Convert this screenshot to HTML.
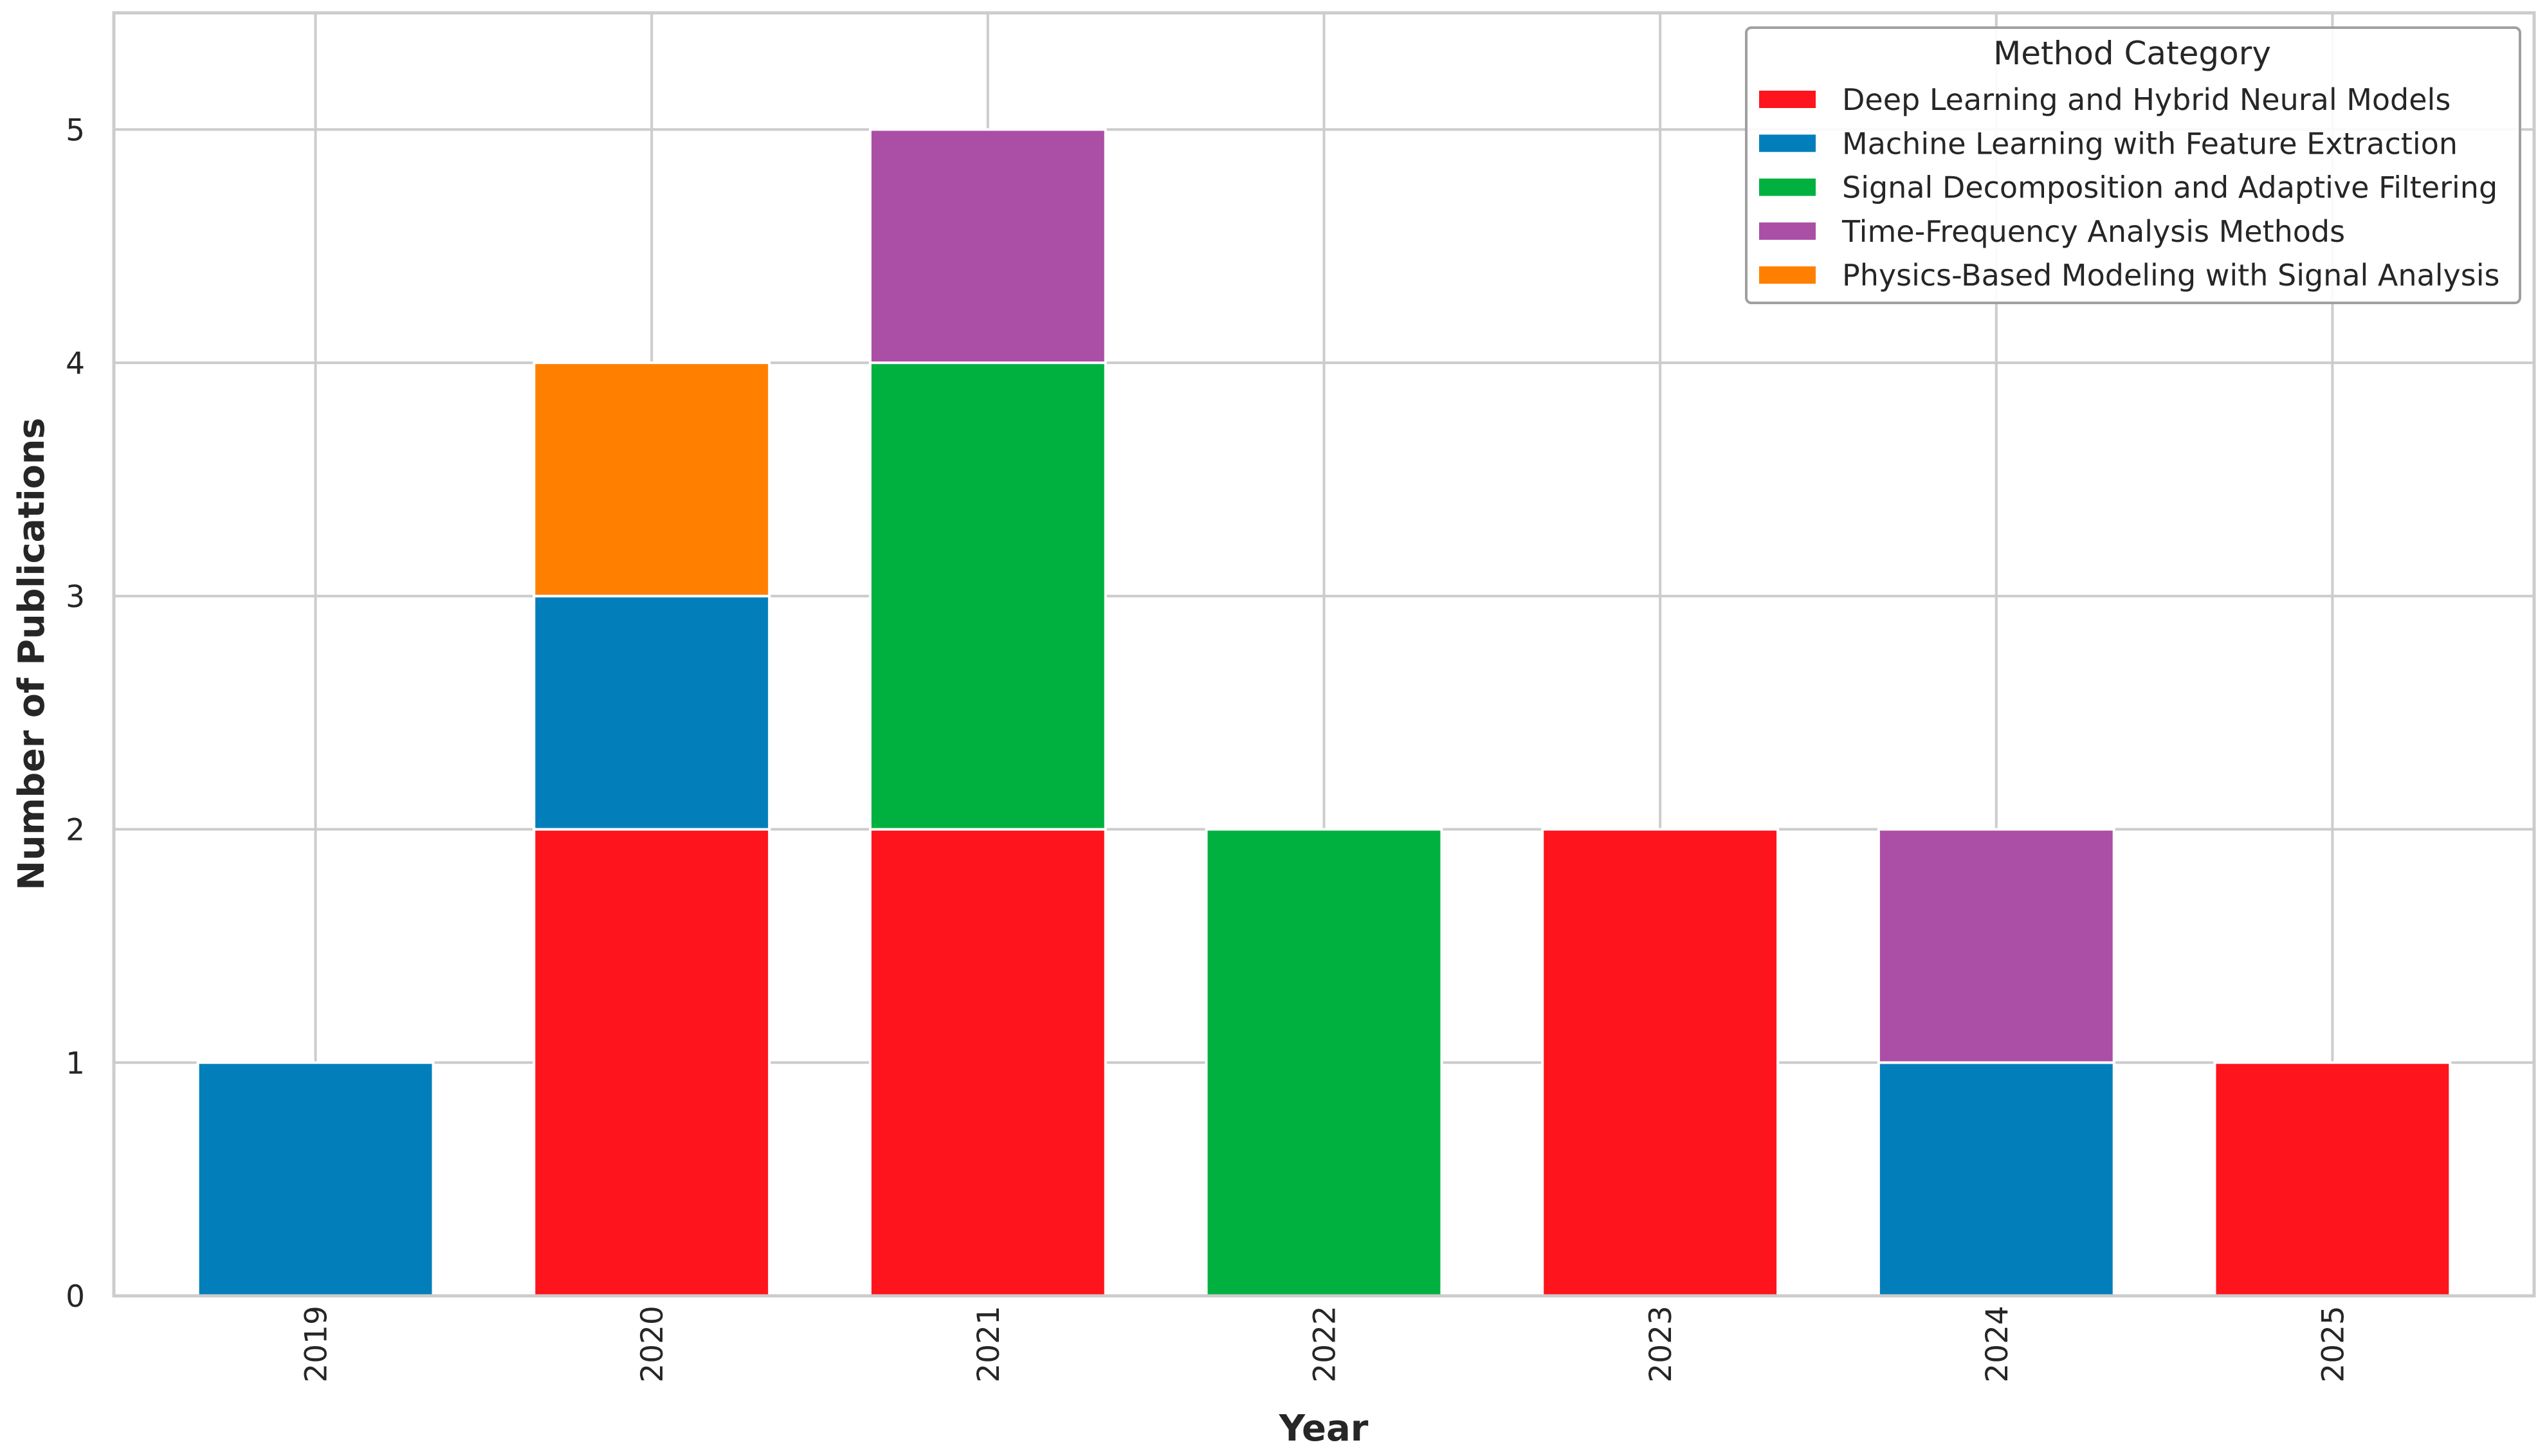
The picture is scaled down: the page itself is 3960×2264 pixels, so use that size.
<!DOCTYPE html>
<html><head><meta charset="utf-8"><style>
html,body{margin:0;padding:0;background:#fff;}
svg{display:block;font-family:"DejaVu Sans","Liberation Sans",sans-serif;}
</style></head><body>
<svg id="chart" width="3960" height="2264" viewBox="0 0 3960 2264" xmlns="http://www.w3.org/2000/svg">
<g id="grid"></g>
<g id="bars"></g>
<g id="axes"></g>
<text x="0" y="0" transform="translate(68,1017) rotate(-90)" text-anchor="middle" font-size="56" font-weight="bold" fill="#262626" textLength="735" lengthAdjust="spacingAndGlyphs">Number of Publications</text>
<text x="2058" y="2240" text-anchor="middle" font-size="56" font-weight="bold" fill="#262626">Year</text>
<g id="legend"></g>
</svg>
<script>
const years = ["2019","2020","2021","2022","2023","2024","2025"];
const seriesNames = ["Deep Learning and Hybrid Neural Models","Machine Learning with Feature Extraction","Signal Decomposition and Adaptive Filtering","Time-Frequency Analysis Methods","Physics-Based Modeling with Signal Analysis"];
const deepLearning = [0,2,2,0,2,0,1];
const machineLearning = [1,1,0,0,0,1,0];
const signalDecomp = [0,0,2,2,0,0,0];
const timeFrequency = [0,0,1,0,0,1,0];
const physicsBased = [0,1,0,0,0,0,0];
const yTicks = [0,1,2,3,4,5];
const colors = ["#fe141c","#027fbb","#00b140","#ab4fa6","#ff8000"];
const seriesData = [deepLearning, machineLearning, signalDecomp, timeFrequency, physicsBased];

const NS = "http://www.w3.org/2000/svg";
const L = 177, R = 3940, T = 20, B = 2015;
const xMin = -0.6, xMax = years.length - 1 + 0.6, yMin = 0, yMax = 5.5;
const xs = i => L + (i - xMin) / (xMax - xMin) * (R - L);
const ys = v => B - (v - yMin) / (yMax - yMin) * (B - T);
const barW = 0.7 * (R - L) / (xMax - xMin);
function mk(tag, attrs, parent) { const e = document.createElementNS(NS, tag); for (const k in attrs) e.setAttribute(k, attrs[k]); parent.appendChild(e); return e; }

const grid = document.getElementById('grid');
yTicks.forEach(t => {
  const ln = mk('line', {x1: L, x2: R, y1: ys(t), y2: ys(t), stroke: '#cccccc', 'stroke-width': 4}, grid);
  
  
});
years.forEach((y, i) => {
  const ln = mk('line', {x1: xs(i), x2: xs(i), y1: T, y2: B, stroke: '#cccccc', 'stroke-width': 4}, grid);
  
  
});

const bars = document.getElementById('bars');
years.forEach((y, i) => {
  let base = 0;
  seriesData.forEach((s, k) => {
    const v = s[i];
    if (v > 0) {
      const r = mk('rect', {x: xs(i) - barW / 2, y: ys(base + v), width: barW, height: ys(base) - ys(base + v), fill: colors[k], stroke: '#ffffff', 'stroke-width': 4}, bars);
      
      
    }
    base += v;
  });
});

const axes = document.getElementById('axes');
const frame = mk('rect', {x: L, y: T, width: R - L, height: B - T, fill: 'none', stroke: '#cccccc', 'stroke-width': 5}, axes);


yTicks.forEach(t => {
  const tx = mk('text', {x: 132, y: ys(t) + 17, 'text-anchor': 'end', 'font-size': 47, fill: '#262626'}, axes);
  tx.textContent = t;
  
  
});
years.forEach((y, i) => {
  const tx = mk('text', {x: 0, y: 0, transform: 'translate(' + (xs(i) + 17) + ',2090) rotate(-90)', 'text-anchor': 'middle', 'font-size': 47, fill: '#262626'}, axes);
  tx.textContent = y;
  
  
});

const lg = document.getElementById('legend');
const box = mk('rect', {x: 2715, y: 43, width: 1203, height: 428, rx: 8, fill: '#ffffff', 'fill-opacity': 0.9, stroke: '#a0a0a0', 'stroke-width': 4}, lg);


const lt = mk('text', {x: 3315, y: 100, 'text-anchor': 'middle', 'font-size': 50, fill: '#262626'}, lg);
lt.textContent = 'Method Category';


seriesNames.forEach((n, k) => {
  const cy = 154 + k * 68.3;
  const p = mk('rect', {x: 2735, y: cy - 13, width: 88, height: 27, fill: colors[k]}, lg);
  
  
  const t = mk('text', {x: 2864, y: cy + 17, 'font-size': 46, fill: '#262626'}, lg);
  t.textContent = n;
  
  
});
</script>
</body></html>
